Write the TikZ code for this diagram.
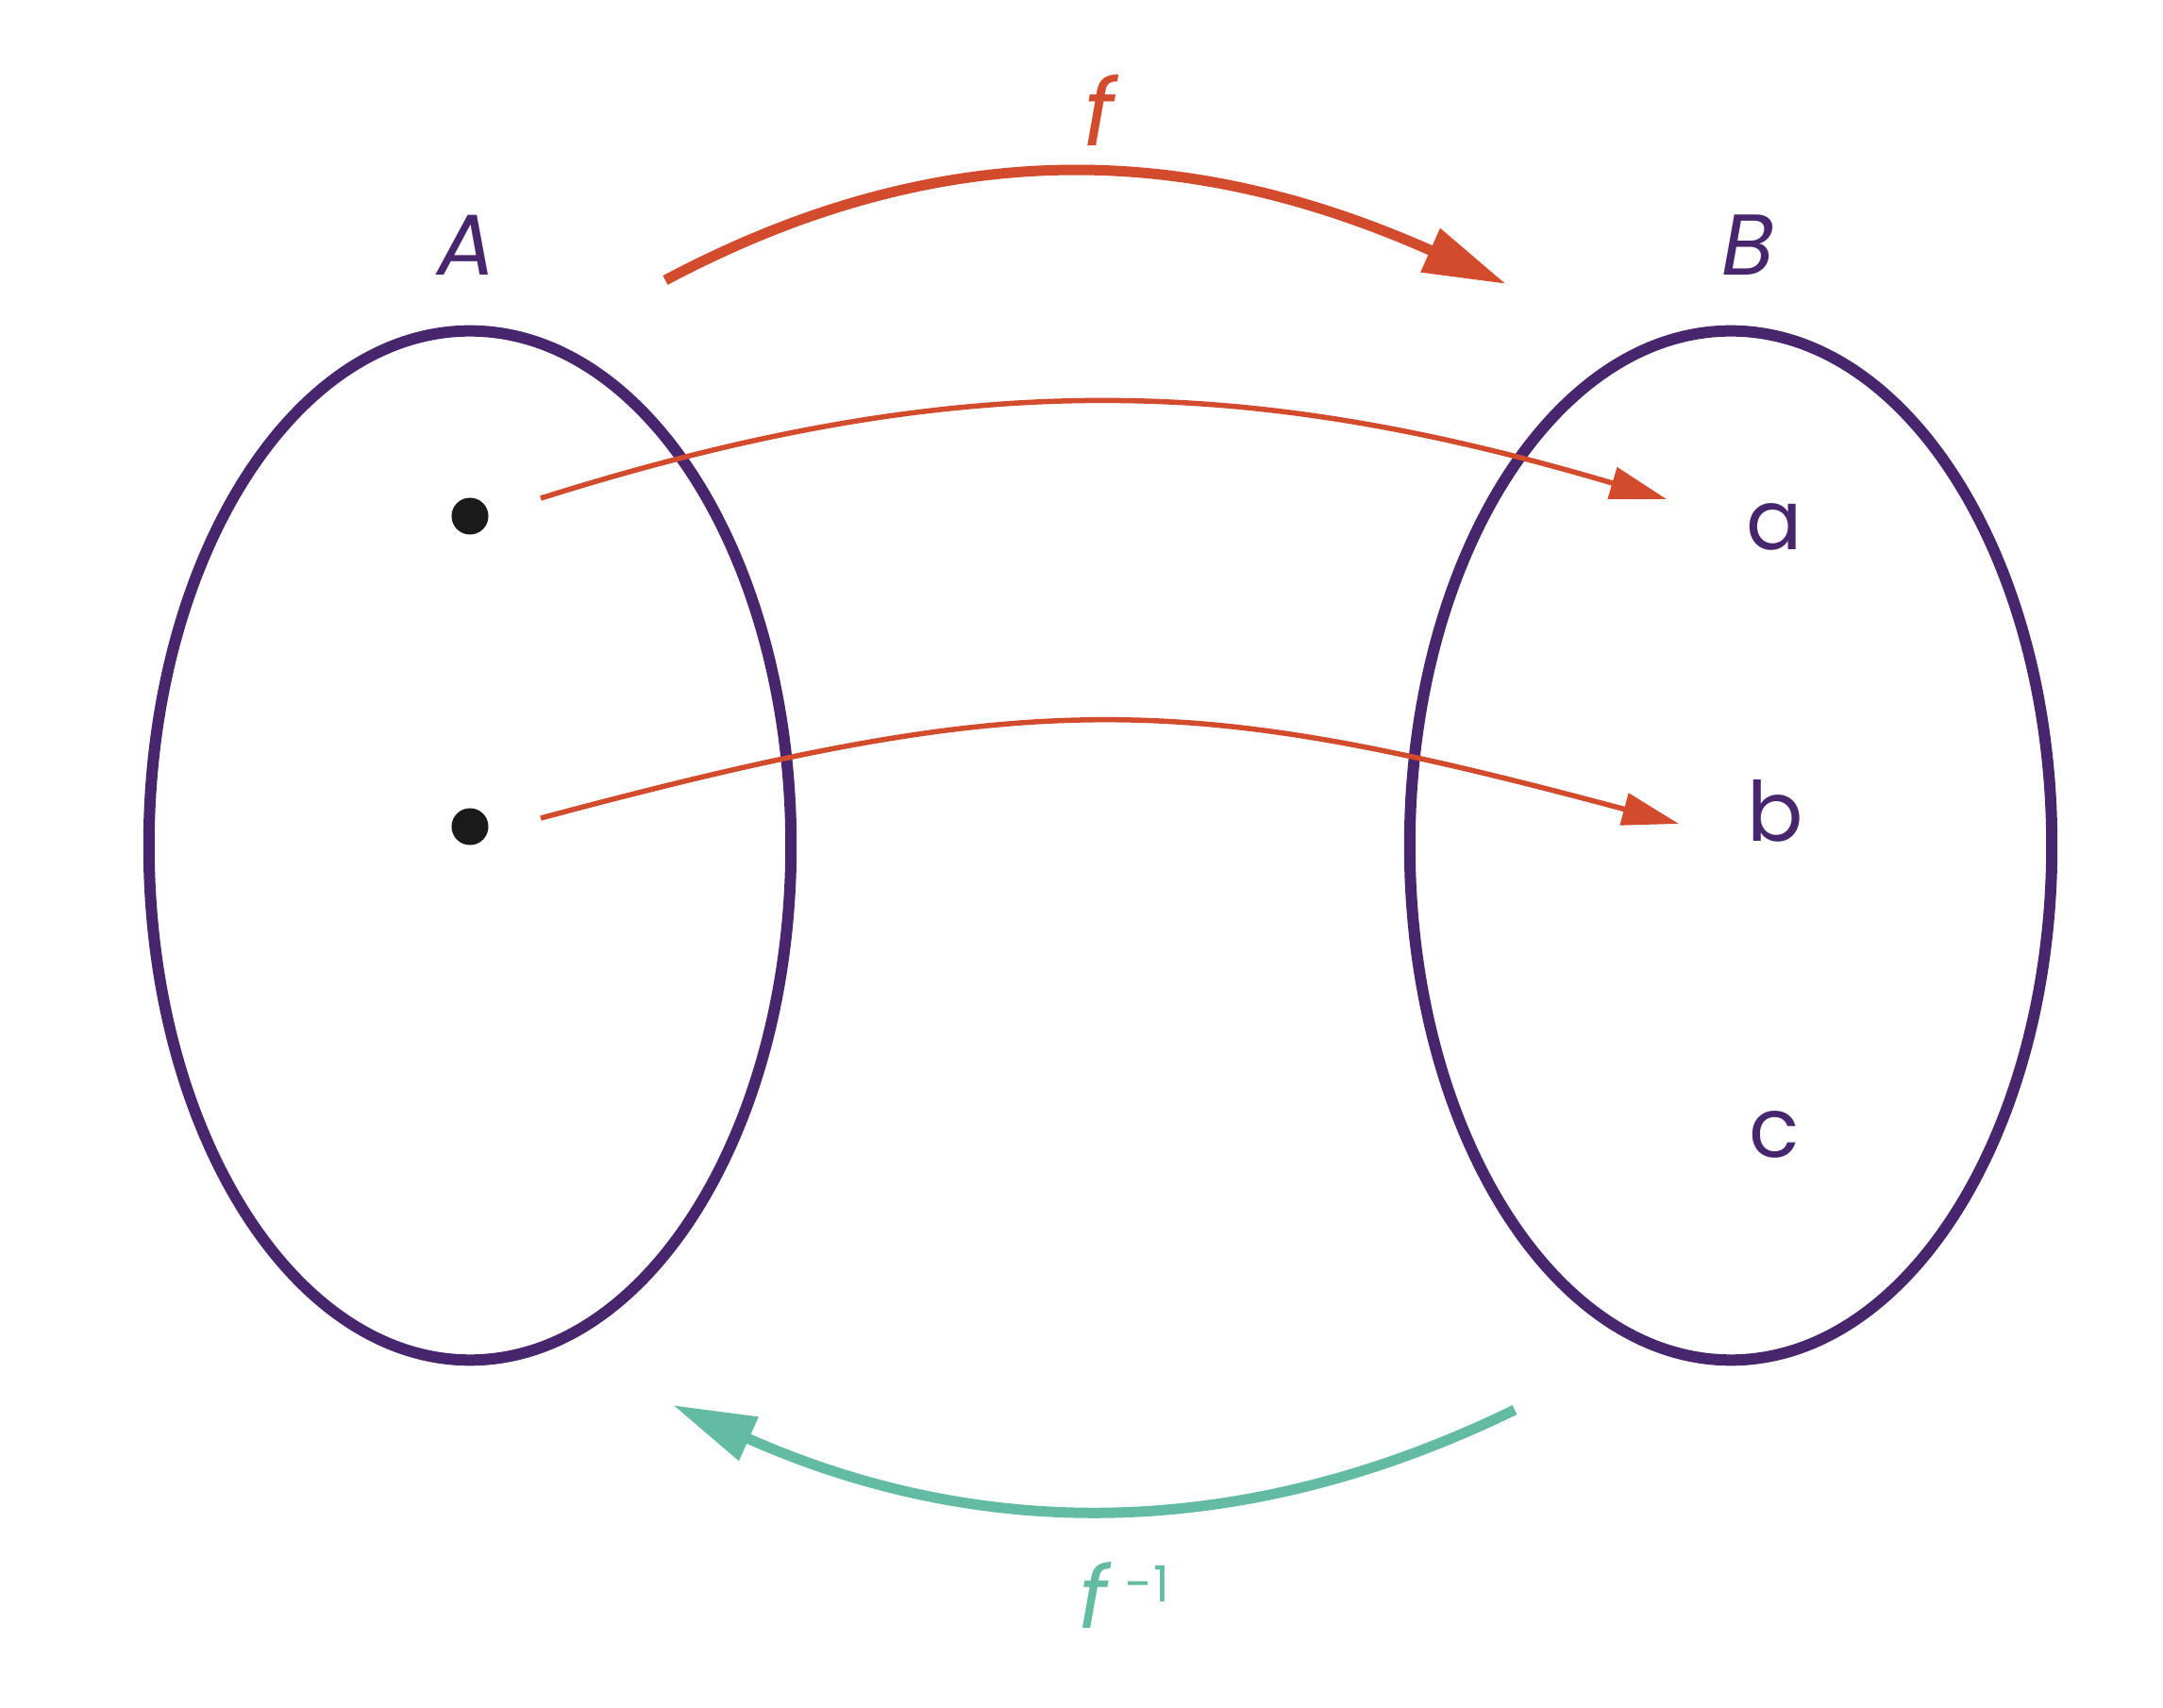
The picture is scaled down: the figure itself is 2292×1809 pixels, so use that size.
\documentclass[tikz,border=0pt]{standalone}
\usepackage{fontspec}
\setmainfont{Poppins}
\usetikzlibrary{arrows.meta,shapes.geometric}
\definecolor{setpurple}{RGB}{72,38,110}
\definecolor{maporange}{RGB}{209,75,44}
\definecolor{invteal}{RGB}{98,187,162}
\definecolor{dotblack}{RGB}{26,26,26}
\tikzset{
  setbox/.style={ellipse,draw=setpurple,line width=0.12cm,minimum width=6.8cm,minimum height=10.9cm,inner sep=0pt},
  setlabel/.style={text=setpurple,font=\fontsize{26}{30}\selectfont\itshape},
  eltlabel/.style={text=setpurple,font=\fontsize{25}{30}\selectfont},
  eltdot/.style={circle,fill=dotblack,inner sep=0pt,minimum size=0.39cm},
  bigmap/.style={line width=0.11cm,-{Triangle[length=0.88cm,width=0.48cm]}},
  eltmap/.style={draw=maporange,line width=0.055cm,-{Triangle[length=0.6cm,width=0.34cm]}}
}
\begin{document}
\begin{tikzpicture}[x=0.01cm,y=0.01cm]
        \useasboundingbox (0,0) rectangle (2292,1809);

        \node[setbox] (setA) at (498,913) {};
        \node[setbox] (setB) at (1834,913) {};
        \node[setlabel] (labA) at (494,1549) {A};
        \node[setlabel] (labB) at (1852,1549) {B};

        \node[eltdot] (x1) at (498,1262) {};
        \node[eltdot] (x2) at (498,933) {};
        \node[eltlabel] (a) at (1880,1251) {a};
        \node[eltlabel] (b) at (1881,950) {b};
        \node[eltlabel] (c) at (1880,607) {c};

        \coordinate (x1out) at (573,1281);
        \coordinate (x2out) at (573,942);
        \coordinate (ain) at (1766,1280);
        \coordinate (bin) at (1779,936);
        \coordinate (fstart) at (705,1512);
        \coordinate (fend) at (1596,1508);
        \coordinate (gstart) at (1605,315);
        \coordinate (gend) at (713,320);

        \draw[eltmap] (x1out) to[out=17.5,in=163.5] (ain);
        \draw[eltmap] (x2out) to[out=15,in=165,looseness=1.15] (bin);

        \draw[bigmap,maporange] (fstart) to[out=28,in=156] (fend);
        \draw[bigmap,invteal] (gstart) to[out=206,in=-24,looseness=0.97] (gend);

        \node[text=maporange,font=\fontsize{28}{32}\selectfont\itshape] (flab) at (1165,1692) {f};
        \node[text=invteal,font=\fontsize{26}{30}\selectfont] (finvlab) at (1191,118) {\textit{f}\,\raisebox{8pt}{\fontsize{15}{18}\selectfont -1}};
\end{tikzpicture}
\end{document}
